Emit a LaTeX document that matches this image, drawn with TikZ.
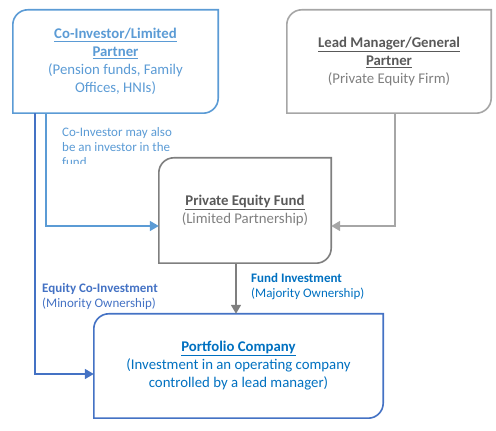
\documentclass[tikz,border=0pt]{standalone}
\usepackage{fontspec}
\setmainfont{Carlito}
\usetikzlibrary{arrows.meta,calc}
\definecolor{lblue}{HTML}{5B9BD5}
\definecolor{dblue}{HTML}{4472C4}
\definecolor{tblue}{HTML}{0070C0}
\definecolor{lgray}{HTML}{A6A6A6}
\definecolor{mgray}{HTML}{7F7F7F}
\definecolor{dgray}{HTML}{595959}
\newcommand\diagframe[2]{\draw[#2] ($(#1.north west)+(0,-15pt)$) arc[start angle=180,end angle=90,radius=15pt] -- (#1.north east) -- ($(#1.south east)+(0,15pt)$) arc[start angle=0,end angle=-90,radius=15pt] -- (#1.south west) -- cycle;}
\begin{document}
\begin{tikzpicture}[x=1pt,y=1pt,
  box/.style={inner sep=0pt, align=center, font=\fontsize{14.8}{18}\selectfont},
  frame/.style={line width=1.6pt},
  arr/.style={-{Triangle[length=9pt,width=10pt]}, line width=1.6pt},
  lbl/.style={inner sep=0pt, align=left, anchor=base west, font=\fontsize{13}{15.3}\selectfont}]
\useasboundingbox (0,0) rectangle (496,431);
% boxes
\node[box, minimum width=205pt, minimum height=103pt, text=lblue] (ci) at (115.5,369.5)
  {\underline{\textbf{Co-Investor/Limited}}\\\underline{\textbf{Partner}}\\(Pension funds, Family\\Offices, HNIs)};
\node[box, minimum width=204pt, minimum height=103pt, text=mgray] (lm) at (389,369.5)
  {\textcolor{dgray}{\underline{\textbf{Lead Manager/General}}}\\\textcolor{dgray}{\underline{\textbf{Partner}}}\\(Private Equity Firm)};
\node[box, minimum width=172pt, minimum height=105pt, text=mgray] (pe) at (245,220.5)
  {\textcolor{dgray}{\underline{\textbf{Private Equity Fund}}}\\(Limited Partnership)};
\node[box, minimum width=289pt, minimum height=104pt, text=tblue] (pc) at (238.5,65)
  {\underline{\textbf{Portfolio Company}}\\(Investment in an operating company\\controlled by a lead manager)};
\diagframe{ci}{frame, lblue}
\diagframe{lm}{frame, lgray}
\diagframe{pe}{frame, mgray}
\diagframe{pc}{frame, dblue}
% connectors
\draw[arr, dblue] ([xshift=22pt]ci.south west) |- ([yshift=-8pt]pc.west);
\draw[arr, lblue] ([xshift=33pt]ci.south west) |- ([yshift=-15.5pt]pe.west);
\draw[arr, lgray] ([xshift=108pt]lm.south west) |- ([yshift=-15.5pt]pe.east);
\draw[arr, mgray] ([xshift=-9pt]pe.south) -- ([xshift=-9pt]pe.south |- pc.north);
% labels
\begin{scope}
\clip (50,267) rectangle (220,318);
\node[lbl, text=lblue] (note) at (62,264) {Co-Investor may also\\be an investor in the\\fund};
\end{scope}
\node[lbl, text=dblue] (eq) at (42,123) {\textbf{Equity Co-Investment}\\(Minority Ownership)};
\node[lbl, text=tblue] (fi) at (251,133) {\textbf{Fund Investment}\\(Majority Ownership)};
\end{tikzpicture}
\end{document}
